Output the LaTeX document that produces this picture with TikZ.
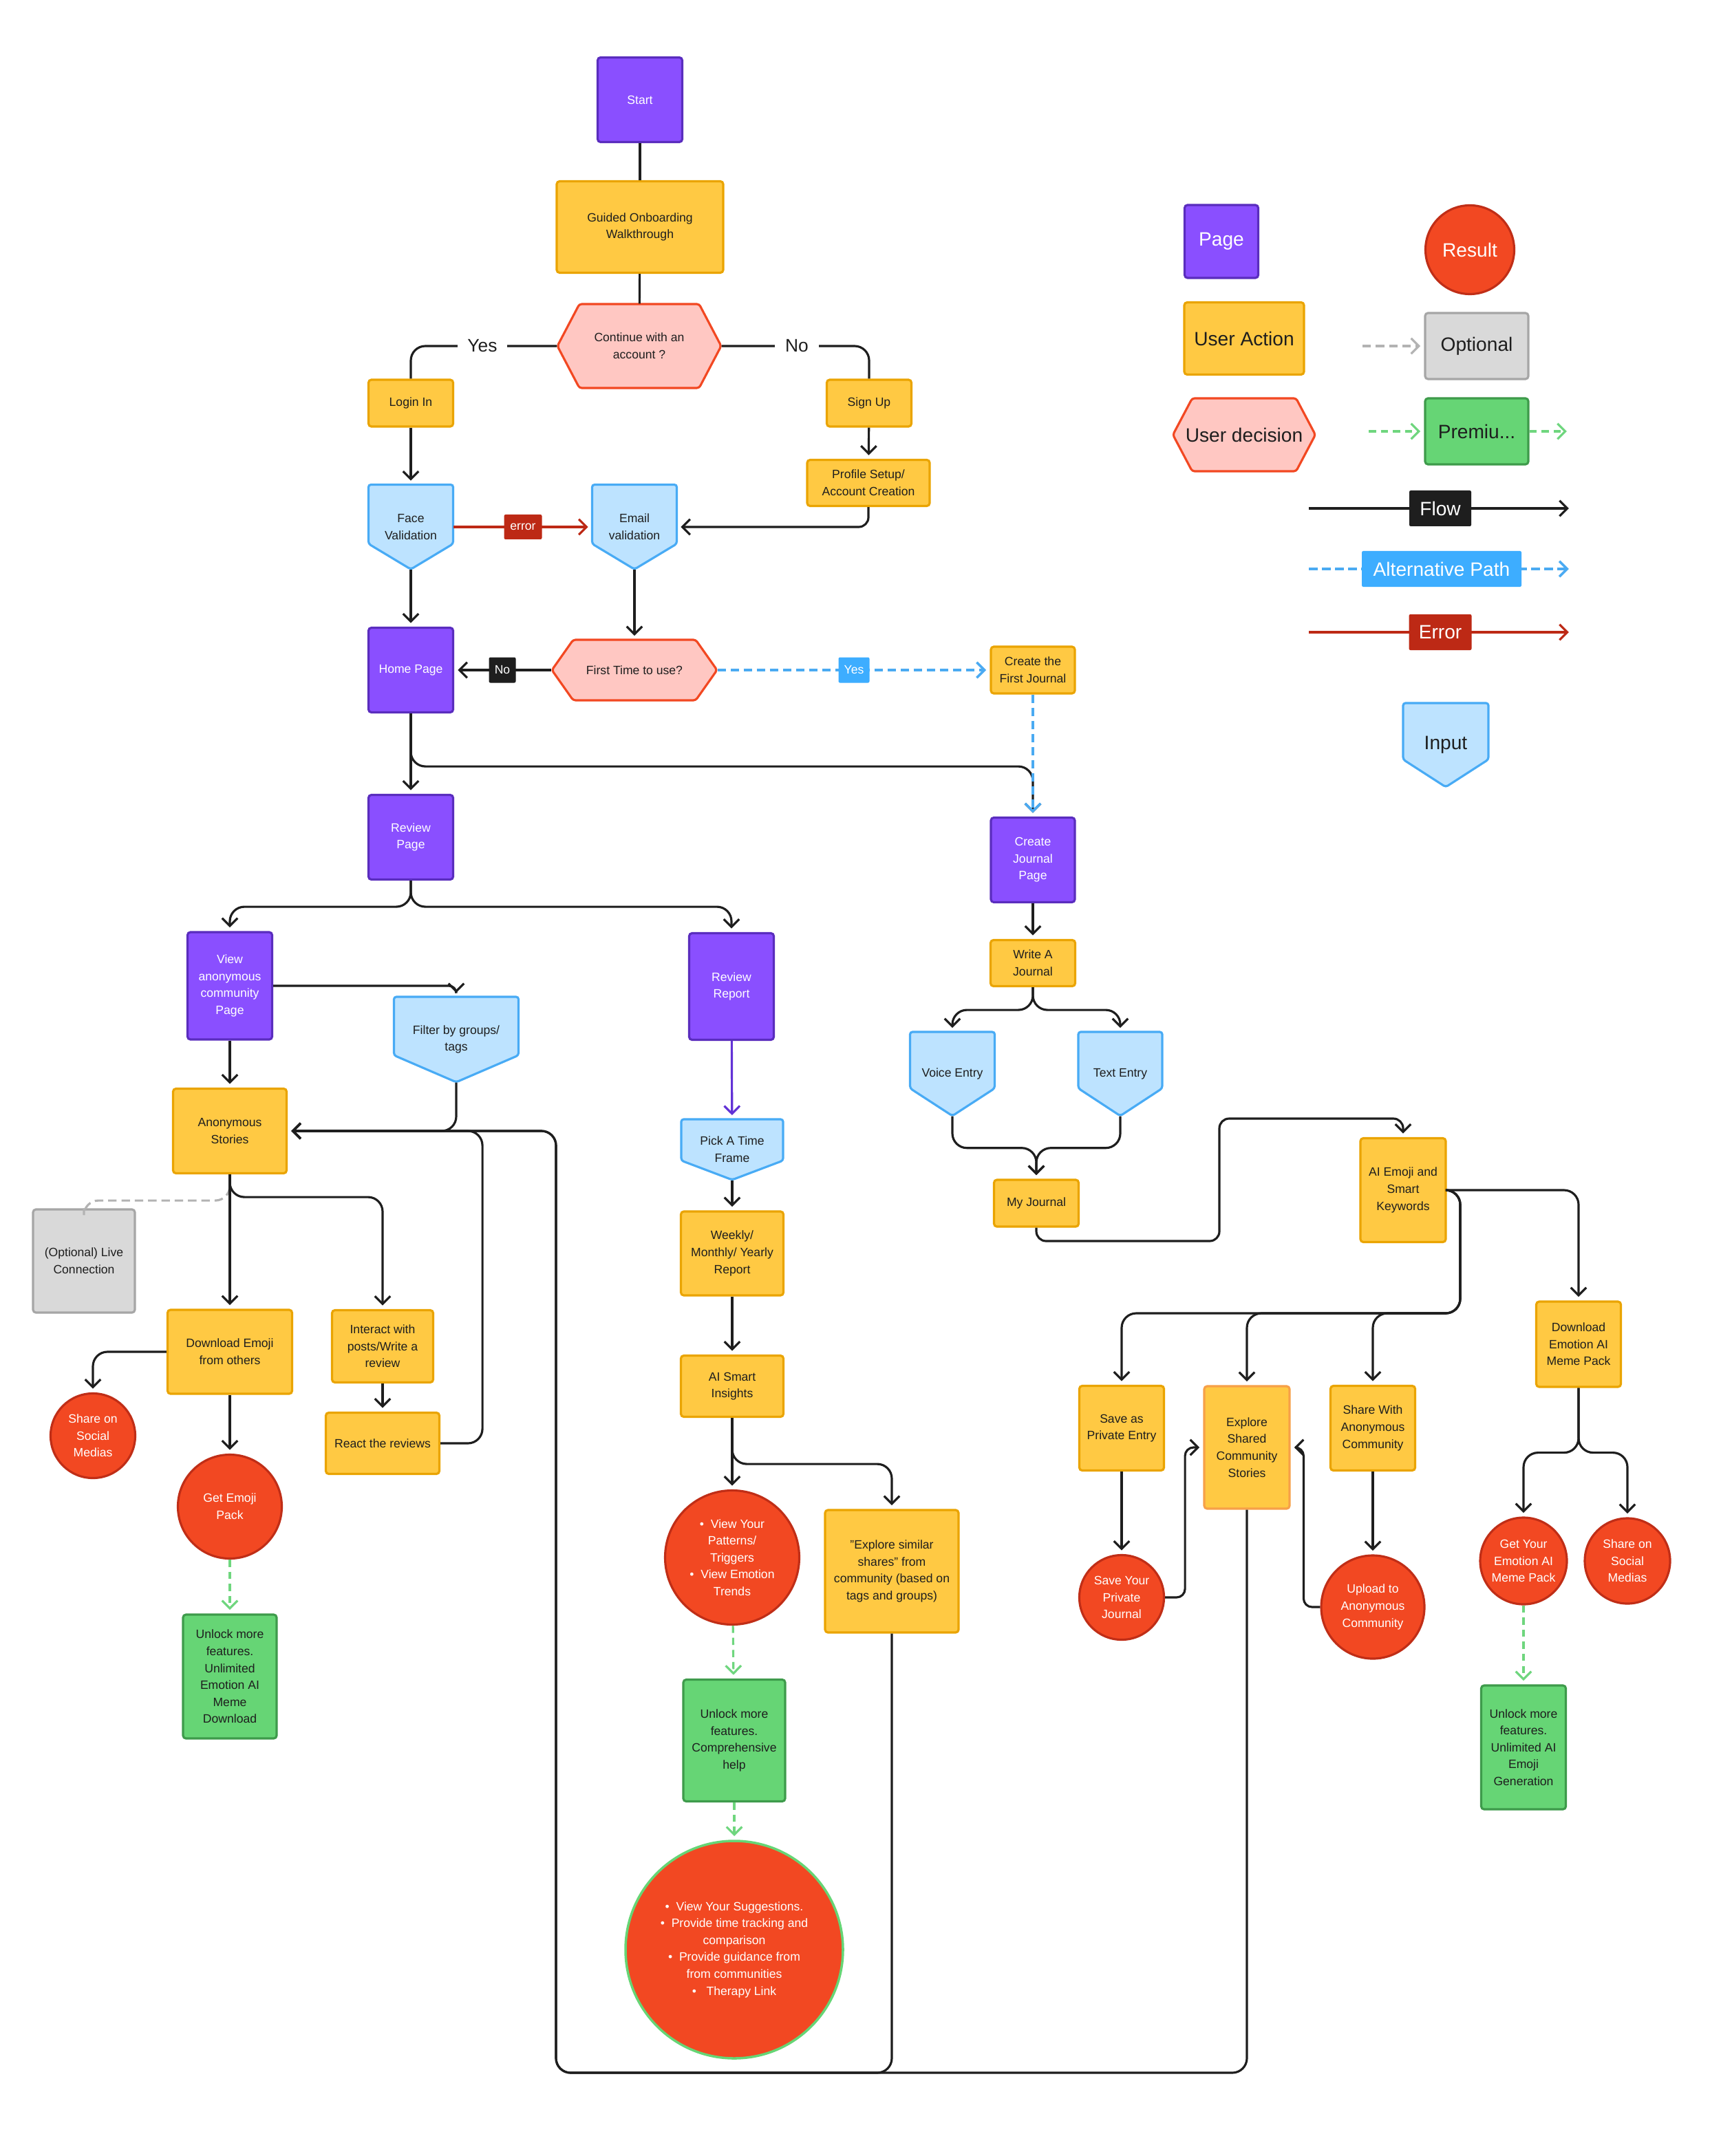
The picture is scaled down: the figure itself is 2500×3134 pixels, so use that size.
\documentclass[tikz,border=0pt]{standalone}
\usepackage{fontspec}
\setmainfont{Liberation Sans}
\usetikzlibrary{arrows.meta,calc}
\definecolor{pagefill}{HTML}{8A4FFF}
\definecolor{pageline}{HTML}{5A2DBE}
\definecolor{actfill}{HTML}{FFC943}
\definecolor{actline}{HTML}{EAA400}
\definecolor{exsline}{HTML}{F7A048}
\definecolor{decfill}{HTML}{FFC7C2}
\definecolor{decline}{HTML}{F24822}
\definecolor{infill}{HTML}{BDE3FF}
\definecolor{inblue}{HTML}{48ABF5}
\definecolor{resfill}{HTML}{F24822}
\definecolor{resline}{HTML}{C02E17}
\definecolor{premfill}{HTML}{66D575}
\definecolor{premline}{HTML}{3E9B4B}
\definecolor{premdash}{HTML}{6FD67E}
\definecolor{optfill}{HTML}{D9D9D9}
\definecolor{optline}{HTML}{A6A6A6}
\definecolor{optdash}{HTML}{B3B3B3}
\definecolor{ink}{HTML}{1E1E1E}
\definecolor{altfill}{HTML}{3DADFF}
\definecolor{altline}{HTML}{4AAAF2}
\definecolor{errred}{HTML}{BD2915}
\definecolor{purpline}{HTML}{6232D6}
\newcommand\nf{\fontsize{5pt}{7pt}\selectfont}
\newcommand\lf{\fontsize{8pt}{10pt}\selectfont}
\newcommand\yf{\fontsize{7.5pt}{9pt}\selectfont}
\tikzset{
  sz/.style 2 args={minimum width=#1*0.01cm, minimum height=#2*0.01cm},
  dia/.style={minimum size=#1*0.01cm},
  box/.style={rectangle, rounded corners=1.2pt, line width=0.9pt, inner sep=0pt, align=center, font=\nf},
  page/.style={box, fill=pagefill, draw=pageline, text=white},
  act/.style={box, fill=actfill, draw=actline, text=ink},
  prem/.style={box, fill=premfill, draw=premline, text=ink},
  opt/.style={box, fill=optfill, draw=optline, text=ink},
  res/.style={circle, inner sep=0pt, align=center, font=\nf, fill=resfill, draw=resline, line width=0.9pt, text=white},
  holder/.style={rectangle, inner sep=0pt, align=center, font=\nf, text=ink},
  decshape/.style={fill=decfill, draw=decline, line width=0.9pt, rounded corners=1pt},
  inshape/.style={fill=infill, draw=inblue, line width=0.9pt, rounded corners=1pt},
  tip/.style={-{Straight Barb[length=3.2pt,width=6.4pt]}, shorten >=1.5pt},
  ln/.style={draw=ink, line width=0.9pt, rounded corners=6pt},
  ar/.style={ln, tip},
  altar/.style={draw=altline, line width=1pt, dash pattern=on 3.6pt off 1.8pt, tip},
  grnar/.style={draw=premdash, line width=0.9pt, dash pattern=on 3pt off 2pt, tip},
  gryln/.style={draw=optdash, line width=0.9pt, dash pattern=on 3.5pt off 2pt, rounded corners=6pt},
  gryar/.style={gryln, tip},
  errar/.style={draw=errred, line width=0.9pt, tip},
  purar/.style={draw=purpline, line width=0.9pt, tip},
  tag/.style={rectangle, inner sep=0pt, rounded corners=0.6pt, text=white, font=\nf},
  ylab/.style={fill=white, inner xsep=4.2pt, inner ysep=1pt, font=\yf, text=ink},
}
\newcommand\mkdec[8]{%
  \path[decshape] ({#2-#4/2},#3) -- ({#2-#4/2+#6},{#3-#5/2}) -- ({#2+#4/2-#6},{#3-#5/2}) -- ({#2+#4/2},#3) -- ({#2+#4/2-#6},{#3+#5/2}) -- ({#2-#4/2+#6},{#3+#5/2}) -- cycle;
  \node[holder, font=#7, sz={#4}{#5}] (#1) at (#2,#3) {#8};}
\newcommand\mkin[8]{%
  \path[inshape] ({#2-#4/2},{#3-#5/2}) -- ({#2+#4/2},{#3-#5/2}) -- ({#2+#4/2},{#3+#5/2-#6}) -- (#2,{#3+#5/2}) -- ({#2-#4/2},{#3+#5/2-#6}) -- cycle;
  \node[holder, font=#7, sz={#4}{#5}] (#1) at (#2,#3) {#8};}
\begin{document}
\begin{tikzpicture}[x=0.01cm,y=-0.01cm]
\useasboundingbox (0,0) rectangle (2500,3134);
\fill[white] (0,0) rectangle (2500,3134);

% ---------- top ----------
\node[page, sz={123}{123}] (start) at (930,145) {Start};
\node[act, sz={242}{133}] (guide) at (930,330) {Guided Onboarding\\Walkthrough};
\mkdec{cont}{929}{503}{238}{122}{32}{\nf}{Continue with an\\account ?}
\node[act, sz={123}{68}] (login) at (597,586) {Login In};
\node[act, sz={123}{68}] (sign) at (1263,586) {Sign Up};
\node[act, sz={178}{67}] (prof) at (1262,702) {Profile Setup/\\Account Creation};
\mkin{face}{597}{766}{123}{123}{37}{\nf}{Face\\Validation}
\mkin{email}{922}{766}{123}{123}{37}{\nf}{Email\\validation}
\node[page, sz={123}{123}] (home) at (597,974) {Home Page};
\mkdec{ft}{922}{974}{240}{88}{31}{\nf}{First Time to use?}
\node[act, sz={122}{68}] (cfj) at (1501,974) {Create the\\First Journal};
\node[page, sz={123}{123}] (rvp) at (597,1217) {Review\\Page};
\node[page, sz={122}{123}] (cjp) at (1501,1250) {Create\\Journal\\Page};

% ---------- journal branch ----------
\node[act, sz={123}{67}] (wj) at (1501,1400) {Write A\\Journal};
\mkin{ve}{1384}{1561}{123}{122}{40}{\nf}{Voice Entry}
\mkin{te}{1628}{1561}{122}{122}{40}{\nf}{Text Entry}
\node[act, sz={123}{68}] (mj) at (1506,1749) {My Journal};
\node[act, sz={124}{151}] (aie) at (2039,1730) {AI Emoji and\\Smart\\Keywords};
\node[act, sz={123}{124}] (dem) at (2294,1954) {Download\\Emotion AI\\Meme Pack};
\node[act, sz={123}{123}] (save) at (1630,2076) {Save as\\Private Entry};
\node[act, draw=exsline, sz={124}{178}] (exs) at (1812,2104) {Explore\\Shared\\Community\\Stories};
\node[act, sz={123}{123}] (swa) at (1995,2076) {Share With\\Anonymous\\Community};
\node[res, dia=123] (spj) at (1630,2322) {Save Your\\Private\\Journal};
\node[res, dia=150] (upl) at (1995,2336) {Upload to\\Anonymous\\Community};
\node[res, dia=126] (gyp) at (2214,2269) {Get Your\\Emotion AI\\Meme Pack};
\node[res, dia=124] (ssr) at (2365,2269) {Share on\\Social\\Medias};
\node[prem, sz={123}{180}] (unr) at (2214,2540) {Unlock more\\features.\\Unlimited AI\\Emoji\\Generation};

% ---------- community branch ----------
\node[page, sz={123}{156}] (vap) at (334,1433) {View\\anonymous\\community\\Page};
\mkin{filt}{663}{1511}{181}{124}{39}{\nf}{Filter by groups/\\tags}
\node[act, sz={165}{123}] (anon) at (334,1644) {Anonymous\\Stories};
\node[opt, sz={148}{150}] (optl) at (122,1833) {(Optional) Live\\Connection};
\node[act, sz={181}{122}] (dle) at (334,1965) {Download Emoji\\from others};
\node[act, sz={147}{105}] (inter) at (556,1957) {Interact with\\posts/Write a\\review};
\node[act, sz={165}{89}] (react) at (556,2098) {React the reviews};
\node[res, dia=123] (ssl) at (135,2087) {Share on\\Social\\Medias};
\node[res, dia=151] (gep) at (334,2190) {Get Emoji\\Pack};
\node[prem, sz={136}{180}] (unl) at (334,2437) {Unlock more\\features.\\Unlimited\\Emotion AI\\Meme\\Download};

% ---------- report branch ----------
\node[page, sz={123}{155}] (rrep) at (1063,1434) {Review\\Report};
\mkin{pick}{1064}{1671}{148}{88}{28}{\nf}{Pick A Time\\Frame}
\node[act, sz={149}{122}] (week) at (1064,1822) {Weekly/\\Monthly/ Yearly\\Report};
\node[act, sz={149}{89}] (ais) at (1064,2015) {AI Smart\\Insights};
\node[res, dia=195] (pat) at (1064,2264) {\textbullet\ \ View Your\\Patterns/\\Triggers\\\textbullet\ \ View Emotion\\Trends};
\node[act, sz={194}{178}] (esim) at (1296,2284) {"Explore similar\\shares" from\\community (based on\\tags and groups)};
\node[prem, sz={148}{177}] (ucomp) at (1067,2530) {Unlock more\\features.\\Comprehensive\\help};
\node[res, draw=premfill, line width=1pt, dia=316] (bigc) at (1067,2834) {\textbullet\ \ View Your Suggestions.\\\textbullet\ \ Provide time tracking and\\comparison\\\textbullet\ \ Provide guidance from\\from communities\\\textbullet\ \ \ Therapy Link};

% ---------- connectors: top ----------
\draw[ln] (start) -- (guide);
\draw[ln] (guide) -- (cont);
\draw[ln] (cont.west) -| (login.north);
\draw[ln] (cont.east) -| (sign.north);
\node[ylab] (yes1) at (701,503) {Yes};
\node[ylab] (no1) at (1158,503) {No};
\draw[ar] (login) -- (face);
\draw[ar] (sign) -- (prof);
\draw[ar, rounded corners=4pt] (prof.south) |- (email.east);
\draw[errar] (face.east) -- (email.west);
\node[tag, fill=errred, sz={55}{36}] (errtag) at (760,766) {error};
\draw[ar] (face.south) -- (home.north);
\draw[ar] (email.south) -- (ft.north);
\draw[ar] (ft.west) -- (home.east);
\node[tag, fill=ink, sz={39}{37}] (notag) at (730,974) {No};
\draw[ar] (home.south) -- ++(0,77) -| (cjp.north);
\draw[altar] (ft.east) -- (cfj.west);
\draw[altar] (cfj.south) -- (cjp.north);
\node[tag, fill=altfill, sz={45}{37}] (yestag) at (1241,974) {Yes};
\draw[ar] (home.south) -- (rvp.north);
\draw[ar] (rvp.south) -- ++(0,38) -| (vap.north);
\draw[ar] (rvp.south) -- ++(0,38) -| (rrep.north);

% ---------- connectors: journal ----------
\draw[ar] (cjp) -- (wj);
\draw[ar] (wj.south) -- ++(0,33) -| (ve.north);
\draw[ar] (wj.south) -- ++(0,33) -| (te.north);
\draw[ar] (ve.south) -- ++(0,46) -| (mj.north);
\draw[ar] (te.south) -- ++(0,46) -| (mj.north);
\draw[ar, rounded corners=4pt] (mj.south) |- (1772,1804) -- (1772,1626) -| (aie.north);
\draw[ar] (aie.east) -| (2122,1909) -| (save.north);
\draw[ar] (aie.east) -| (2122,1909) -| (exs.north);
\draw[ar] (aie.east) -| (2122,1909) -| (swa.north);
\draw[ar] (aie.east) -| (dem.north);
\draw[ar] (save) -- (spj);
\draw[ar] (swa) -- (upl);
\draw[ar, rounded corners=3.5pt] (spj.east) -- ++(29,0) |- (exs.west);
\draw[ar, rounded corners=3.5pt] (upl.west) -- ++(-24,0) |- (exs.east);
\draw[ar] (dem.south) -- ++(0,94) -| (gyp.north);
\draw[ar] (dem.south) -- ++(0,94) -| (ssr.north);
\draw[grnar] (gyp) -- (unr);

% ---------- connectors: community ----------
\draw[ar, rounded corners=3pt] (vap.east) -| (filt.north);
\draw[ar] (vap) -- (anon);
\draw[ar] (filt.south) |- (anon.east);
\draw[ar] (react.east) -- ++(61,0) |- (anon.east);
\draw[ar] (esim.south) |- (808,3013) |- (anon.east);
\draw[ar] (exs.south) |- (808,3013) |- (anon.east);
\draw[gryln] (anon.south) -- ++(0,38) -| (optl.north);
\draw[ar] (anon) -- (dle);
\draw[ar] (anon.south) -- ++(0,33) -| (inter.north);
\draw[ar] (inter) -- (react);
\draw[ar] (dle.west) -| (ssl.north);
\draw[ar] (dle) -- (gep);
\draw[grnar] (gep) -- (unl);

% ---------- connectors: report ----------
\draw[purar] (rrep) -- (pick);
\draw[ar] (pick.south) -- (week.north);
\draw[ar] (week) -- (ais);
\draw[ar] (ais) -- (pat);
\draw[ar] (ais.south) -- ++(0,67) -| (esim.north);
\draw[grnar] (pat) -- (ucomp);
\draw[grnar] (ucomp) -- (bigc);

% ---------- legend ----------
\node[page, font=\lf, sz={107}{106}] (lpage) at (1775,351) {Page};
\node[res, font=\lf, dia=129] (lres) at (2136,363) {Result};
\node[act, font=\lf, sz={174}{105}] (lact) at (1808,492) {User Action};
\node[opt, font=\lf, sz={150}{96}] (lopt) at (2146,503) {Optional};
\mkdec{ldec}{1808}{632}{207}{106}{28}{\lf}{User decision}
\node[prem, font=\lf, sz={150}{96}] (lprem) at (2146,627) {Premiu...};
\coordinate (lo) at (1980,503);
\draw[gryar] (lo) -- (lopt.west);
\coordinate (lp1) at (1989,627);
\coordinate (lp2) at (2282,627);
\draw[grnar] (lp1) -- (lprem.west);
\draw[grnar] (lprem.east) -- (lp2);
\coordinate (lf1) at (1902,739);
\coordinate (lf2) at (2285,739);
\draw[ar] (lf1) -- (lf2);
\node[tag, fill=ink, font=\lf, sz={90}{52}] (lflow) at (2093,739) {Flow};
\coordinate (la1) at (1902,827);
\coordinate (la2) at (2285,827);
\draw[altar] (la1) -- (la2);
\node[tag, fill=altfill, font=\lf, sz={232}{52}] (lalt) at (2095,827) {Alternative Path};
\coordinate (le1) at (1902,919);
\coordinate (le2) at (2285,919);
\draw[errar] (le1) -- (le2);
\node[tag, fill=errred, font=\lf, sz={91}{52}] (lerr) at (2093,919) {Error};
\mkin{linput}{2101}{1083}{124}{122}{40}{\lf}{Input}
\end{tikzpicture}
\end{document}
